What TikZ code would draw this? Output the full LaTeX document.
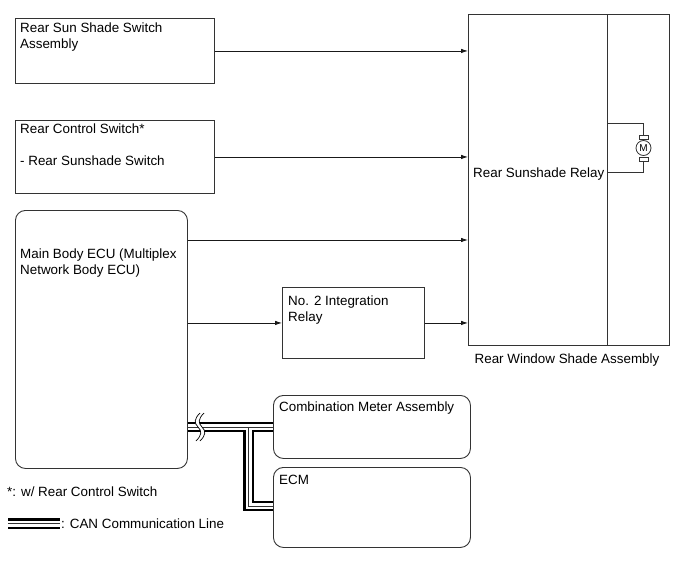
\documentclass[tikz,border=0pt]{standalone}
\usepackage{fontspec}
\setmainfont{Liberation Sans}
\usetikzlibrary{arrows.meta}
\begin{document}
\begin{tikzpicture}[x=1pt,y=-1pt,
  box/.style={draw=black!80, line width=0.9pt, inner sep=0pt, anchor=north west},
  rbox/.style={box, rounded corners=10pt},
  txt/.style={anchor=base west, inner sep=0pt, font=\fontsize{13.4}{16}\selectfont},
  sig/.style={draw=black!90, line width=0.8pt, -{Latex[length=7pt,width=4.5pt]}},
  wire/.style={draw=black!80, line width=0.8pt},
  canouter/.style={draw=black, line width=10.6pt, line join=miter},
  caninner/.style={draw=white, line width=6pt, line join=miter},
  cancenter/.style={draw=black!80, line width=0.9pt, line join=miter}]
\useasboundingbox (0,0) rectangle (691,562);

% boxes
\node[box, minimum width=199pt, minimum height=65pt] (sw) at (15,18) {};
\node[box, minimum width=199pt, minimum height=73pt] (rcs) at (15,120) {};
\node[rbox, minimum width=172pt, minimum height=258pt] (ecu) at (15,210) {};
\node[box, minimum width=142pt, minimum height=71pt] (int) at (282,287) {};
\node[box, minimum width=139pt, minimum height=331pt] (rel) at (468,14) {};
\node[box, minimum width=62pt, minimum height=331pt] (mot) at (607,14) {};
\node[rbox, minimum width=197pt, minimum height=63pt] (cmb) at (273,395) {};
\node[rbox, minimum width=197pt, minimum height=80pt] (ecm) at (273,467) {};

% texts
\node[txt] (t1) at (20,32) {Rear Sun Shade Switch};
\node[txt] (t2) at (20,48) {Assembly};
\node[txt] (t3) at (20,133) {Rear Control Switch*};
\node[txt] (t4) at (20,165) {- Rear Sunshade Switch};
\node[txt] (t5) at (20,258) {Main Body ECU (Multiplex};
\node[txt] (t6) at (20,274) {Network Body ECU)};
\node[txt] (t7) at (288,305) {No. 2 Integration};
\node[txt] (t8) at (288,321) {Relay};
\node[txt] (t9) at (473,177) {Rear Sunshade Relay};
\node[txt, anchor=base] (t10) at (567,363) {Rear Window Shade Assembly};
\node[txt] (t11) at (279,411) {Combination Meter Assembly};
\node[txt] (t12) at (279,484) {ECM};
\node[txt] (t13) at (7,496) {*: w/ Rear Control Switch};
\node[txt] (t14) at (61,528) {: CAN Communication Line};

% signal arrows
\draw[sig] (sw.east) -- (sw.east -| rel.west);
\draw[sig] (rcs.east) -- (rcs.east -| rel.west);
\coordinate (e1) at ([yshift=-30pt]ecu.north east);
\draw[sig] (e1) -- (e1 -| rel.west);
\coordinate (e2) at (ecu.east |- int.west);
\draw[sig] (e2) -- (int.west);
\draw[sig] (int.east) -- (int.east -| rel.west);

% motor
\node[draw=black!80, line width=0.8pt, circle, minimum size=15pt, inner sep=0pt,
      font=\fontsize{10}{10}\selectfont] (m) at (643.5,148) {M};
\node[draw=black!80, line width=0.7pt, fill=white, minimum width=9pt, minimum height=4pt, inner sep=0pt] (b1) at (643.5,137) {};
\node[draw=black!80, line width=0.7pt, fill=white, minimum width=9pt, minimum height=4pt, inner sep=0pt] (b2) at (643.5,159) {};
\coordinate (w1) at (607,123);
\coordinate (w2) at (607,172);
\draw[wire] (w1) -- (w1 -| b1.north) -- (b1.north);
\draw[wire] (w2) -- (w2 -| b2.south) -- (b2.south);

% CAN lines
\coordinate (ca) at (ecu.east |- 0,427);
\coordinate (cb) at (cmb.west |- 0,427);
\coordinate (cj) at (248.5,427);
\coordinate (ck) at (248.5,506);
\coordinate (cl) at (ecm.west |- 0,506);
\coordinate (la) at (8,523.5);
\coordinate (lb) at (60,523.5);
\foreach \s in {canouter,caninner,cancenter}{
  \draw[\s] (ca) -- (cb);
  \draw[\s] (cj) -- (ck) -- (cl);
  \draw[\s] (la) -- (lb);
}
% break mark
\fill[white] (200,413) .. controls (194,419) and (194,423) .. (198,427)
  .. controls (202,431) and (202,435) .. (196,441) -- (200,441)
  .. controls (206,435) and (206,431) .. (202,427)
  .. controls (198,423) and (198,419) .. (204,413) -- cycle;
\draw[black, line width=0.7pt] (200,413) .. controls (194,419) and (194,423) .. (198,427)
  .. controls (202,431) and (202,435) .. (196,441);
\draw[black, line width=0.7pt] (204,413) .. controls (198,419) and (198,423) .. (202,427)
  .. controls (206,431) and (206,435) .. (200,441);
\end{tikzpicture}
\end{document}
